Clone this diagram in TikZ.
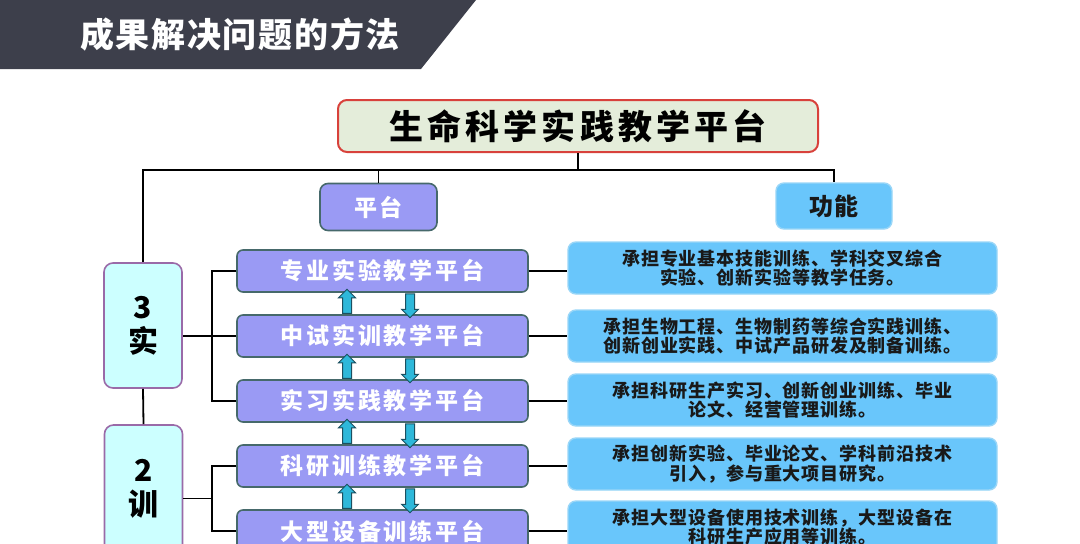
\documentclass[tikz,border=0pt]{standalone}
\usepackage{fontspec}
\newfontfamily\cjk{Noto Sans CJK SC}[LetterSpace=5]
\newfontfamily\cjkwide{Noto Sans CJK SC}[LetterSpace=12]
\usetikzlibrary{positioning, calc, shapes.arrows}

\definecolor{bannergray}{HTML}{3D3F4B}
\definecolor{topfill}{HTML}{E4EDDA}
\definecolor{topbord}{HTML}{D8413B}
\definecolor{pfill}{HTML}{9A9AF4}
\definecolor{pbord}{HTML}{46696B}
\definecolor{ffill}{HTML}{69C6FB}
\definecolor{fbord}{HTML}{9AD6F7}
\definecolor{sfill}{HTML}{CCFFFF}
\definecolor{sbord}{HTML}{9A6AA8}
\definecolor{arrfill}{HTML}{2EB8DA}
\definecolor{arrbord}{HTML}{1C5060}

\tikzset{
  conn/.style={line width=1.8pt, black},
  platbox/.style={draw=pbord, fill=pfill, line width=1.6pt, rounded corners=6pt,
    minimum width=291pt, minimum height=42pt, inner sep=0pt, text=white,
    font=\cjkwide\bfseries\fontsize{23}{26}\selectfont},
  funcbox/.style={draw=fbord, fill=ffill, line width=1.4pt, rounded corners=8pt,
    minimum width=429pt, minimum height=52pt, inner sep=0pt, align=center,
    text=black!90, font=\cjk\bfseries\fontsize{18}{19.5}\selectfont},
  sidebox/.style={draw=sbord, fill=sfill, line width=1.6pt, rounded corners=9pt,
    minimum width=78pt, inner sep=0pt, align=center,
    font=\cjk\bfseries\fontsize{30}{34}\selectfont},
  blockarr/.style={single arrow, fill=arrfill, draw=arrbord, line width=1pt,
    minimum height=24pt, minimum width=0pt, inner sep=4pt,
    single arrow head extend=4pt, single arrow head indent=0pt}
}

\begin{document}
\begin{tikzpicture}[x=1pt, y=-1pt]
  \useasboundingbox (0,0) rectangle (1080,544);
  \clip (0,0) rectangle (1080,544);

  % banner
  \fill[bannergray] (0,0) -- (476,0) -- (421,69) -- (0,69) -- cycle;
  \node[text=white, font=\cjk\bfseries\fontsize{34}{36}\selectfont] (banner) at (240,35) {成果解决问题的方法};

  % top level
  \node[draw=topbord, fill=topfill, line width=2pt, rounded corners=9pt,
        minimum width=480pt, minimum height=52pt, inner sep=0pt,
        font=\cjkwide\bfseries\fontsize{34}{36}\selectfont] (top) at (578,126) {生命科学实践教学平台};
  \node[draw=pbord, fill=pfill, line width=1.6pt, rounded corners=8pt,
        minimum width=117pt, minimum height=47pt, inner sep=0pt, text=white,
        font=\cjkwide\bfseries\fontsize{23}{26}\selectfont] (plat) at (378.5,207) {平台};
  \node[draw=fbord, fill=ffill, line width=1.4pt, rounded corners=8pt,
        minimum width=116pt, minimum height=46pt, inner sep=0pt, text=black!90,
        font=\cjk\bfseries\fontsize{24}{26}\selectfont] (func) at (834,206) {功能};

  % side boxes
  \node[sidebox, minimum height=125pt] (san) at (143,325.5) {3\\实};
  \node[sidebox, minimum height=128pt] (er) at (143.5,489) {2\\训};

  % platforms
  \foreach \i/\y/\t in {1/271/专业实验教学平台, 2/336/中试实训教学平台,
      3/401/实习实践教学平台, 4/466/科研训练教学平台, 5/531/大型设备训练平台}
    \node[platbox] (p\i) at (382.5,\y) {\t};

  % functions
  \foreach \i/\y/\t in {
      1/268/{承担专业基本技能训练、学科交叉综合\\实验、创新实验等教学任务。},
      2/336/{承担生物工程、生物制药等综合实践训练、\\创新创业实践、中试产品研发及制备训练。},
      3/400/{承担科研生产实习、创新创业训练、毕业\\论文、经营管理训练。},
      4/464/{承担创新实验、毕业论文、学科前沿技术\\引入，参与重大项目研究。},
      5/527/{承担大型设备使用技术训练，大型设备在\\科研生产应用等训练。}}
    \node[funcbox] (f\i) at (782.5,\y) {\t};

  % tree lines
  \coordinate (bus) at (578,170);
  \draw[conn] (top.south) -- (bus);
  \draw[conn] (san.north) |- (bus) -| (func.north);
  \draw[conn] (plat.north) -- (plat.north |- bus);
  \draw[conn] (san.south) -- (er.north);

  % brackets
  \draw[conn] (p1.west) -- ++(-24,0) |- (p3.west);
  \draw[conn] (san.east |- p2.west) -- (p2.west);
  \draw[conn] (p4.west) -- ++(-24,0) |- (p5.west);
  \coordinate (m45) at ($(p4.west)!0.5!(p5.west)+(-24,0)$);
  \draw[conn] (er.east |- m45) -- (m45);

  % platform to function
  \foreach \i in {1,...,5}
    \draw[conn] (p\i.east) -- (p\i.east -| f\i.west);

  % up and down arrows
  \foreach \a/\b in {1/2, 2/3, 3/4, 4/5} {
    \node[blockarr, shape border rotate=90] (up\a) at ($(p\a.south)!0.5!(p\b.north)+(-35.5,0)$) {};
    \node[blockarr, shape border rotate=270] (dn\a) at ($(p\a.south)!0.5!(p\b.north)+(27.5,0)$) {};
  }
\end{tikzpicture}
\end{document}
